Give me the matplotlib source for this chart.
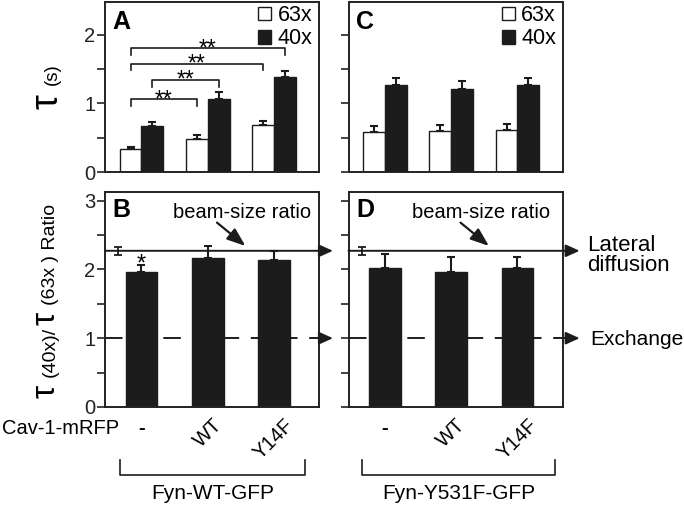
import matplotlib
matplotlib.use("Agg")
import matplotlib.pyplot as plt
import matplotlib.transforms as mtransforms
import numpy as np

plt.rcParams['font.family'] = ['Liberation Sans', 'DejaVu Sans']

# ---------------- data ----------------
groups = ['-', 'WT', 'Y14F']
series = ['63x', '40x']

tauA_63 = [0.34, 0.49, 0.69]
errA_63 = [0.03, 0.05, 0.06]
tauA_40 = [0.67, 1.06, 1.38]
errA_40 = [0.06, 0.11, 0.09]

tauC_63 = [0.59, 0.60, 0.62]
errC_63 = [0.09, 0.09, 0.08]
tauC_40 = [1.27, 1.21, 1.27]
errC_40 = [0.10, 0.12, 0.10]

ratioB = [1.96, 2.17, 2.13]
errB = [0.11, 0.17, 0.14]
ratioD = [2.02, 1.96, 2.02]
errD = [0.20, 0.22, 0.16]

beam_ratio = 2.27
beam_err = 0.06
exchange_level = 1.0

# significance brackets in A: (group_i, series_i, group_j, series_j, level)
sig_brackets = [(0, 0, 1, 0, 1.06),
                (0, 1, 1, 1, 1.34),
                (0, 0, 2, 0, 1.58),
                (0, 0, 2, 1, 1.80)]
sig_label = '**'

construct_labels = ['Fyn-WT-GFP', 'Fyn-Y531F-GFP']
cav_label = 'Cav-1-mRFP'

# ---------------- figure ----------------
W, H = 684, 507
fig = plt.figure(figsize=(W / 100, H / 100), dpi=100)

def rect(l, t, r, b):
    return [l / W, 1 - b / H, (r - l) / W, (b - t) / H]

axA = fig.add_axes(rect(105, 2, 319, 172.3))
axC = fig.add_axes(rect(348.5, 2, 562.5, 172.3))
axB = fig.add_axes(rect(105, 192.3, 319, 407))
axD = fig.add_axes(rect(348.5, 192.3, 562.5, 407))

x = np.arange(len(groups))
wA = 0.33
wB = 0.48
LW = 1.4
dark = '#1c1c1c'

for ax in (axA, axB, axC, axD):
    for s in ax.spines.values():
        s.set_linewidth(LW)
        s.set_color('#222222')
    ax.set_xlim(-0.55, 2.68)
    ax.tick_params(axis='y', direction='out', length=5.5, width=1.2, labelsize=14.5,
                   pad=1.5, which='both', colors='#222222')
    ax.tick_params(axis='x', length=0, labelsize=14.5)

err_kw = dict(ecolor=dark, elinewidth=1.5, capsize=3, capthick=1.5)

def tau_panel(ax, v63, e63, v40, e40, letter, show_labels):
    zeros = [0] * len(v63)
    ax.bar(x - wA / 2, v63, wA, color='white', edgecolor=dark, linewidth=1.0,
           yerr=[zeros, e63], error_kw=err_kw, label=series[0], zorder=2)
    ax.bar(x + wA / 2, v40, wA, color=dark, edgecolor=dark, linewidth=1.0,
           yerr=[zeros, e40], error_kw=err_kw, label=series[1], zorder=2)
    ax.set_ylim(0, 2.475)
    ax.set_yticks([0, 1, 2])
    ax.set_yticks([0.5, 1.5], minor=True)
    ax.set_xticks([])
    if not show_labels:
        ax.set_yticklabels([])
    ax.text(0.035, 0.955, letter, transform=ax.transAxes, fontsize=18,
            fontweight='bold', va='top', ha='left')
    leg = ax.legend(loc='upper right', frameon=False, fontsize=15.5,
                    handlelength=0.6, handleheight=0.6, handletextpad=0.3,
                    labelspacing=0.1, borderaxespad=0.0, borderpad=0.15,
                    bbox_to_anchor=(0.985, 1.0))
    for h in leg.legend_handles:
        h.set_linewidth(1.0)

tau_panel(axA, tauA_63, errA_63, tauA_40, errA_40, 'A', True)
tau_panel(axC, tauC_63, errC_63, tauC_40, errC_40, 'C', False)

# significance brackets
leg_drop = 0.1
for gi, si, gj, sj, lev in sig_brackets:
    x1 = x[gi] + (si - 0.5) * wA
    x2 = x[gj] + (sj - 0.5) * wA
    axA.plot([x1, x1, x2, x2], [lev - leg_drop, lev, lev, lev - leg_drop],
             color=dark, lw=1.2, zorder=3)
    axA.text((x1 + x2) / 2, lev - 0.10, sig_label, ha='center', va='baseline',
             fontsize=16.5, zorder=4)

head = dict(arrowstyle='-|>,head_length=0.6,head_width=0.27', lw=LW, color=dark,
            shrinkA=0, shrinkB=0, mutation_scale=14)

def ratio_panel(ax, vals, errs, letter, show_labels, tip, side_text, brk):
    zeros = [0] * len(vals)
    ax.bar(x, vals, wB, color=dark, edgecolor=dark, linewidth=1.0,
           yerr=[zeros, errs], error_kw=err_kw, zorder=2)
    ax.set_ylim(0, 3.12)
    ax.set_yticks([0, 1, 2, 3])
    ax.set_yticks([0.5, 1.5, 2.5], minor=True)
    if not show_labels:
        ax.set_yticklabels([])
    ax.set_xticks(x)
    ax.set_xticklabels(groups)
    ax.tick_params(axis='x', pad=6)
    for lab in ax.get_xticklabels():
        if lab.get_text() != '-':
            lab.set_rotation(45)
            lab.set_ha('center')
        else:
            lab.set_fontweight('bold')
    ax.xaxis.get_major_ticks()[0].set_pad(9)
    ax.text(0.035, 0.975, letter, transform=ax.transAxes, fontsize=18,
            fontweight='bold', va='top', ha='left')
    # beam-size reference
    ax.errorbar([-0.35], [beam_ratio], yerr=[beam_err], fmt='none', ecolor=dark,
                elinewidth=1.3, capsize=3, capthick=1.3, zorder=3)
    trans = mtransforms.blended_transform_factory(ax.transAxes, ax.transData)
    ax.annotate('', xy=(tip, beam_ratio), xytext=(0, beam_ratio),
                xycoords=trans, textcoords=trans, arrowprops=head)
    ax.plot([0, tip - 0.03], [exchange_level, exchange_level], transform=trans,
            color=dark, lw=LW, ls=(0, (9, 6)), clip_on=False, zorder=1)
    ax.annotate('', xy=(tip, exchange_level), xytext=(tip - 0.03, exchange_level),
                xycoords=trans, textcoords=trans, arrowprops=head)
    ax.text(1.45 if letter == 'D' else 1.52, 2.82, 'beam-size ratio',
            ha='center', va='center', fontsize=14.5)
    ax.annotate('', xy=(1.57, 2.34), xytext=(1.14, 2.68),
                arrowprops=dict(arrowstyle='-|>,head_length=0.8,head_width=0.3',
                                lw=1.6, color=dark, shrinkA=0, shrinkB=0,
                                mutation_scale=14))
    if side_text:
        ax.text(1.117, 2.20, 'Lateral\ndiffusion', transform=trans, ha='left',
                va='center', fontsize=16, linespacing=0.95)
        ax.text(1.13, exchange_level - 0.02, 'Exchange', transform=trans, ha='left',
                va='center', fontsize=15)
    # construct bracket below
    tb = mtransforms.blended_transform_factory(ax.transData, ax.transAxes)
    bl, br = brk
    ax.plot([bl, bl, br, br], [-0.247, -0.317, -0.317, -0.247], transform=tb,
            color=dark, lw=1.2, clip_on=False)
    ax.text((bl + br) / 2, -0.405, construct_labels[0 if letter == 'B' else 1],
            transform=tb, ha='center', va='center', fontsize=15)

ratio_panel(axB, ratioB, errB, 'B', True, 1.065, False, (-0.32, 2.47))
ratio_panel(axD, ratioD, errD, 'D', False, 1.08, True, (-0.35, 2.57))

# significance star in B
axB.text(x[0], ratioB[0] + errB[0] - 0.09, '*', ha='center', va='baseline',
         fontsize=17)

# Cav-1-mRFP row label
fig.text(119 / W, 1 - 428 / H, cav_label, ha='right', va='center', fontsize=14.5)

# y-labels with mixed font sizes (pieces placed along the rotated baseline)
def rotated_pieces(x_px, pieces):
    for s, size, y_px in pieces:
        fig.text(x_px / W, 1 - y_px / H, s, rotation=90, rotation_mode='anchor',
                 ha='left', va='baseline', fontsize=size)

rotated_pieces(57, [('τ', 27, 109), ('(s)', 13.5, 85)])
rotated_pieces(55, [('τ', 24, 398), ('(40x)/', 14, 377), ('τ', 24, 325),
                    ('(63x ) Ratio', 14, 305)])

fig.savefig('out.png', dpi=100)
